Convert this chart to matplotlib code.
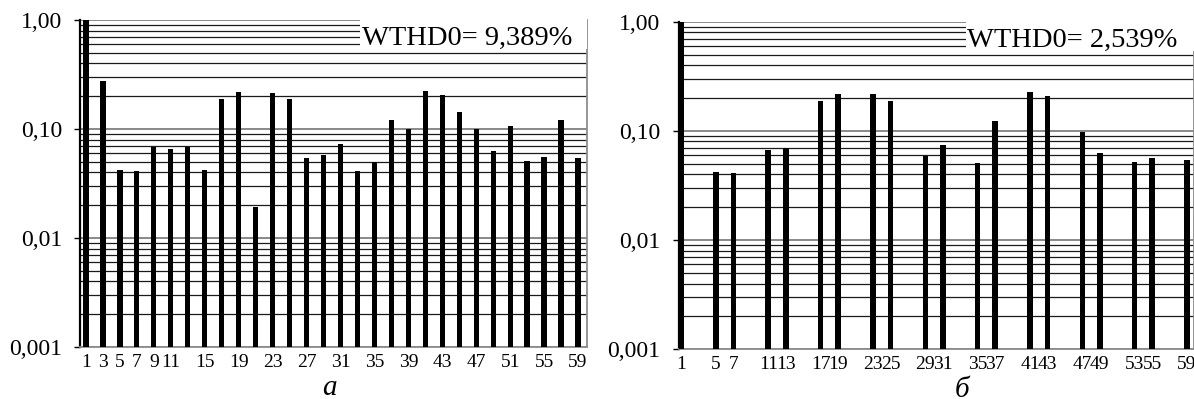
import matplotlib
matplotlib.use("Agg")
import matplotlib.pyplot as plt
from matplotlib.patches import Rectangle
from matplotlib.ticker import FixedLocator, NullLocator, NullFormatter

# Harmonic spectrum, case (a): all odd harmonics
harm_a = list(range(1, 60, 2))
amp_a = [1.0, 0.275, 0.041, 0.040, 0.067, 0.065, 0.067, 0.041, 0.188, 0.218,
         0.0183, 0.212, 0.188, 0.0533, 0.0564, 0.0711, 0.040, 0.0486, 0.120, 0.098,
         0.224, 0.206, 0.143, 0.098, 0.0614, 0.105, 0.0497, 0.0548, 0.120, 0.0533]
ticks_a = [1, 3, 5, 7, 9, 11, 15, 19, 23, 27, 31, 35, 39, 43, 47, 51, 55, 59]
wthd_a = "WTHD0= 9,389%"

# Harmonic spectrum, case (б): triplen harmonics eliminated
harm_b = [1, 5, 7, 11, 13, 17, 19, 23, 25, 29, 31, 35, 37, 41, 43, 47, 49, 53, 55, 59]
amp_b = [1.0, 0.0409, 0.040, 0.0664, 0.0683, 0.188, 0.218, 0.218, 0.188, 0.0573,
         0.0728, 0.0494, 0.121, 0.225, 0.207, 0.0977, 0.0618, 0.0504, 0.0553, 0.0533]
ticks_b = harm_b
wthd_b = "WTHD0= 2,539%"

y_ticks = [1.0, 0.1, 0.01, 0.001]
y_labels = ["1,00", "0,10", "0,01", "0,001"]

SERIF = "Liberation Serif"
W, H = 1194, 399
fig = plt.figure(figsize=(W / 100, H / 100), dpi=100)


def panel(rect, harm, amp, ticks, xlim, wthd, box_x, text_x, bar_w):
    ax = fig.add_axes(rect)
    ax.set_yscale("log")
    ax.set_ylim(0.001, 1.0)
    ax.set_xlim(*xlim)

    # horizontal grid at every log step
    for dec in (0.001, 0.01, 0.1):
        for m in range(2, 10):
            ax.axhline(dec * m, color="#1a1a1a", lw=0.9, zorder=1)
    for v in y_ticks:
        ax.axhline(v, color="#808080", lw=1.3, zorder=1)

    ax.bar(harm, amp, width=bar_w, bottom=0.001, color="black", zorder=3)

    ax.yaxis.set_major_locator(FixedLocator(y_ticks))
    ax.set_yticklabels(y_labels)
    ax.yaxis.set_minor_locator(NullLocator())
    ax.yaxis.set_minor_formatter(NullFormatter())
    ax.set_xticks(ticks)
    ax.set_xticklabels([str(t) for t in ticks])
    ax.tick_params(axis="y", which="major", length=4, width=1.0, direction="out",
                   pad=9, labelsize=17)
    ax.tick_params(axis="x", length=0, pad=5, labelsize=14)
    for lab in ax.get_xticklabels() + ax.get_yticklabels():
        lab.set_family(SERIF)

    ax.spines["top"].set_visible(False)
    ax.spines["left"].set_color("black")
    ax.spines["left"].set_linewidth(1.6)
    for s in ("bottom", "right"):
        ax.spines[s].set_color("#8c8c8c")
        ax.spines[s].set_linewidth(1.3)

    ax.add_patch(Rectangle((box_x, 0.91), 1.0 - box_x, 0.1, transform=ax.transAxes,
                           facecolor="white", edgecolor="none", zorder=4,
                           clip_on=False))
    ax.text(text_x, 0.924, wthd, transform=ax.transAxes, family=SERIF,
            fontsize=20.5, va="baseline", ha="left", zorder=5)
    return ax


panel([80 / W, 1 - 347 / H, 507 / W, 327 / H], harm_a, amp_a, ticks_a,
      (0.3, 60.06), wthd_a, 0.552, 0.556, 0.62)
panel([678.5 / W, 1 - 349.3 / H, 515.5 / W, 327.6 / H], harm_b, amp_b, ticks_b,
      (0.71, 59.8), wthd_b, 0.557, 0.5597, 0.64)

fig.text(329 / W, 1 - 395 / H, "а", family=SERIF, style="italic", fontsize=21,
         ha="center", va="baseline")
fig.text(962 / W, 1 - 397 / H, "б", family=SERIF, style="italic", fontsize=21,
         ha="center", va="baseline")

fig.savefig("out.png", dpi=100)
